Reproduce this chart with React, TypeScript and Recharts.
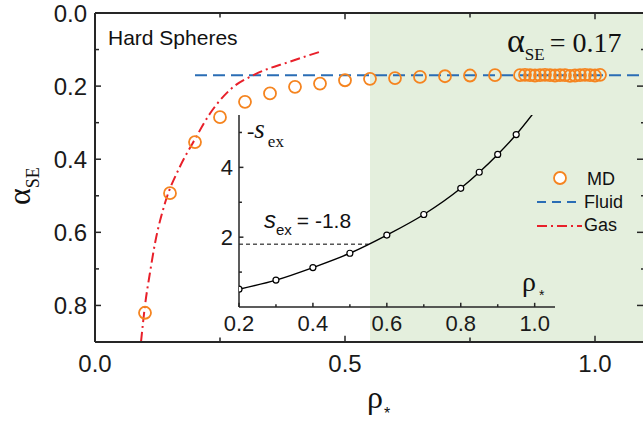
import React from 'react';
import {
  ComposedChart,
  Line,
  Scatter,
  XAxis,
  YAxis,
  ReferenceArea,
  ReferenceLine,
} from 'recharts';

// main panel: alpha_SE vs reduced density
const mdRho = [
  0.1, 0.15, 0.2, 0.25, 0.3, 0.35, 0.4, 0.45, 0.5, 0.55, 0.6, 0.65, 0.7, 0.75, 0.8,
  0.85, 0.86, 0.87, 0.88, 0.89, 0.9, 0.91, 0.92, 0.93, 0.94, 0.95, 0.96, 0.97, 0.98,
  0.99, 1.0, 1.01,
];
const mdAlpha = [
  0.82, 0.493, 0.353, 0.285, 0.243, 0.22, 0.202, 0.193, 0.184, 0.18, 0.178, 0.175,
  0.173, 0.171, 0.17, 0.17, 0.169, 0.17, 0.171, 0.17, 0.169, 0.17, 0.171, 0.17, 0.17,
  0.172, 0.171, 0.17, 0.169, 0.17, 0.171, 0.169,
];
const gasRho = [0.092, 0.1, 0.11, 0.12, 0.14, 0.17, 0.2, 0.23, 0.27, 0.32, 0.39, 0.45];
const gasAlpha = [0.9, 0.8, 0.71, 0.63, 0.52, 0.42, 0.345, 0.275, 0.21, 0.168, 0.133, 0.106];
const fluidRho = [0.2, 1.1];
const fluidAlpha = 0.17;
const shadeFrom = 0.55;

const xMajor = [0, 0.5, 1.0];
const xMinor = [0.25, 0.75];
const yMajor = [0, 0.2, 0.4, 0.6, 0.8];
const yMinor = [0.1, 0.3, 0.5, 0.7];

// inset: -s_ex vs density
const insetRho = [0.2, 0.3, 0.4, 0.5, 0.6, 0.7, 0.8, 0.85, 0.9, 0.95];
const insetSex = [0.51, 0.77, 1.13, 1.54, 2.06, 2.65, 3.4, 3.86, 4.37, 4.94];
const insetTailRho = [1.0];
const insetTailSex = [5.6];
const sexCut = 1.8;
const insetXMajor = [0.2, 0.4, 0.6, 0.8, 1.0];
const insetXMinor = [0.3, 0.5, 0.7, 0.9];
const insetYMajor = [2, 4];
const insetYMinor = [1, 3, 5];

const ORANGE = '#f5841f';
const BLUE = '#2a6db5';
const RED = '#e8202a';
const GREEN = '#e4efdd';
const AXIS = '#262626';
const SANS = '"Liberation Sans", Arial, sans-serif';
const SERIF = '"Liberation Serif", "Times New Roman", serif';

const mdData = mdRho.map((x, i) => ({ x, y: mdAlpha[i] }));
const gasData = gasRho.map((x, i) => ({ x, y: gasAlpha[i] }));
const fluidData = fluidRho.map((x) => ({ x, y: fluidAlpha }));
const insetPts = insetRho.map((x, i) => ({ x, y: insetSex[i] }));
const insetLine = [
  ...insetPts,
  ...insetTailRho.map((x, i) => ({ x, y: insetTailSex[i] })),
];

const isIn = (arr: number[], v: number) => arr.some((a) => Math.abs(a - v) < 1e-9);

const MainXTick = ({ x, y, payload }: any) => {
  if (!isIn(xMajor, payload.value)) return null;
  return (
    <text x={x} y={y} dy="0.71em" textAnchor="middle" fontSize={24} fontFamily={SANS} fill="#1a1a1a">
      {payload.value.toFixed(1)}
    </text>
  );
};

const MainYTick = ({ x, y, payload }: any) => {
  if (!isIn(yMajor, payload.value)) return null;
  return (
    <text x={x} y={y} dy="0.355em" textAnchor="end" fontSize={24} fontFamily={SANS} fill="#1a1a1a">
      {payload.value.toFixed(1)}
    </text>
  );
};

const InsetXTick = ({ x, y, payload }: any) => {
  if (!isIn(insetXMajor, payload.value)) return null;
  return (
    <text x={x} y={y} dy="0.71em" textAnchor="middle" fontSize={22} fontFamily={SANS} fill="#1a1a1a">
      {payload.value.toFixed(1)}
    </text>
  );
};

const InsetYTick = ({ x, y, payload }: any) => {
  if (!isIn(insetYMajor, payload.value)) return null;
  return (
    <text x={x} y={y} dy="0.355em" textAnchor="end" fontSize={22} fontFamily={SANS} fill="#1a1a1a">
      {payload.value}
    </text>
  );
};

const SmallCircle = ({ cx, cy }: any) => (
  <circle cx={cx} cy={cy} r={3} fill="#fff" stroke="#000" strokeWidth={1.2} />
);
const MdCircle = ({ cx, cy }: any) => (
  <circle cx={cx} cy={cy} r={6} fill="none" stroke={ORANGE} strokeWidth={1.8} />
);

// inward tick marks, drawn through the axis scales
const tickSegs = (
  vals: number[],
  dir: 'x' | 'y',
  at: number,
  len: number,
  key: string,
  stroke = AXIS,
) =>
  vals.map((v) => (
    <ReferenceLine
      key={key + v}
      segment={
        dir === 'x'
          ? [{ x: v, y: at }, { x: v, y: at + len }]
          : [{ x: at, y: v }, { x: at + len, y: v }]
      }
      stroke={stroke}
      strokeWidth={1.5}
    />
  ));

const sorted = (a: number[], b: number[]) => [...a, ...b].sort((p, q) => p - q);

export default function App() {
  return (
    <div style={{ position: 'absolute', left: 0, top: 0, width: 643, height: 422, overflow: 'hidden', background: '#fff' }}>
      <div style={{ position: 'absolute', left: 0, top: 0 }}>
        <ComposedChart width={660} height={422} margin={{ top: 13, right: 15, bottom: 0, left: 0 }}>
          <XAxis
            type="number"
            dataKey="x"
            domain={[0, 1.1]}
            ticks={sorted(xMajor, xMinor)}
            interval={0}
            allowDataOverflow
            height={80}
            tickSize={0}
            tickMargin={13}
            tickLine={false}
            axisLine={{ stroke: AXIS, strokeWidth: 2 }}
            tick={<MainXTick />}
          />
          <YAxis
            type="number"
            dataKey="y"
            domain={[0, 0.9]}
            reversed
            ticks={sorted(yMajor, yMinor)}
            interval={0}
            allowDataOverflow
            width={95}
            tickSize={0}
            tickMargin={8}
            tickLine={false}
            axisLine={{ stroke: AXIS, strokeWidth: 2 }}
            tick={<MainYTick />}
          />
          <ReferenceArea x1={shadeFrom} x2={1.1} y1={0} y2={0.9} fill={GREEN} fillOpacity={1} stroke="none" />
          <ReferenceLine y={0} stroke={AXIS} strokeWidth={2} />
          <ReferenceLine x={1.1} stroke={AXIS} strokeWidth={2} />
          {tickSegs(xMajor, 'x', 0.9, -0.017, 'bM')}
          {tickSegs(xMinor, 'x', 0.9, -0.012, 'bm')}
          {tickSegs(xMajor, 'x', 0, 0.017, 'tM')}
          {tickSegs(xMinor, 'x', 0, 0.012, 'tm')}
          {tickSegs(yMajor, 'y', 0, 0.012, 'lM')}
          {tickSegs(yMinor, 'y', 0, 0.008, 'lm')}
          {tickSegs(yMajor, 'y', 1.1, -0.016, 'rM')}
          {tickSegs(yMinor, 'y', 1.1, -0.008, 'rm')}
          <Line
            data={fluidData}
            dataKey="y"
            type="linear"
            stroke={BLUE}
            strokeWidth={2}
            strokeDasharray="12 6"
            dot={false}
            isAnimationActive={false}
          />
          <Line
            data={gasData}
            dataKey="y"
            type="monotone"
            stroke={RED}
            strokeWidth={2}
            strokeDasharray="10 4 2 4"
            dot={false}
            isAnimationActive={false}
          />
          <Scatter data={mdData} dataKey="y" shape={<MdCircle />} isAnimationActive={false} />
        </ComposedChart>
      </div>

      <div style={{ position: 'absolute', left: 0, top: 0 }}>
        <ComposedChart width={643} height={422} margin={{ top: 115, right: 88, bottom: 0, left: 0 }}>
          <XAxis
            type="number"
            dataKey="x"
            domain={[0.2, 1.055]}
            ticks={sorted(insetXMajor, insetXMinor)}
            interval={0}
            allowDataOverflow
            height={115}
            tickSize={0}
            tickMargin={8}
            tickLine={false}
            axisLine={{ stroke: AXIS, strokeWidth: 1.5 }}
            tick={<InsetXTick />}
          />
          <YAxis
            type="number"
            dataKey="y"
            domain={[0, 5.5]}
            ticks={sorted(insetYMajor, insetYMinor)}
            interval={0}
            allowDataOverflow
            width={239}
            tickSize={0}
            tickMargin={6}
            tickLine={false}
            axisLine={{ stroke: AXIS, strokeWidth: 1.5 }}
            tick={<InsetYTick />}
          />
          {tickSegs(insetXMajor, 'x', 0, 0.12, 'iM')}
          {tickSegs(insetXMinor, 'x', 0, 0.08, 'im')}
          {tickSegs(insetYMajor, 'y', 0.2, 0.012, 'jM')}
          {tickSegs(insetYMinor, 'y', 0.2, 0.008, 'jm')}
          <ReferenceLine
            segment={[{ x: 0.2, y: sexCut }, { x: shadeFrom, y: sexCut }]}
            stroke="#000"
            strokeWidth={1}
            strokeDasharray="4 3"
          />
          <Line
            data={insetLine}
            dataKey="y"
            type="monotone"
            stroke="#000"
            strokeWidth={1.4}
            dot={false}
            isAnimationActive={false}
          />
          <Scatter data={insetPts} dataKey="y" shape={<SmallCircle />} isAnimationActive={false} />
        </ComposedChart>
      </div>

      <svg width={643} height={422} style={{ position: 'absolute', left: 0, top: 0 }}>
        <text x={108} y={45} fontSize={21} fontFamily={SANS} fill="#111">Hard Spheres</text>

        <text x={507} y={52} fontFamily={SERIF} fill="#111">
          <tspan fontSize={34}>α</tspan>
          <tspan fontSize={17} dy={8}>SE</tspan>
          <tspan fontSize={28} dy={-8} dx={5}>= 0.17</tspan>
        </text>

        <g transform="translate(30,205) rotate(-90)">
          <text x={0} y={0} fontFamily={SERIF} fill="#111">
            <tspan fontSize={32}>α</tspan>
            <tspan fontSize={18} dy={9}>SE</tspan>
          </text>
        </g>

        <text x={367} y={408} fontFamily={SERIF} fill="#111" fontSize={32}>ρ</text>
        <text x={384} y={419} fontFamily={SANS} fill="#111" fontSize={16}>*</text>

        <text x={522} y={291} fontFamily={SERIF} fill="#111" fontSize={28}>ρ</text>
        <text x={539} y={300} fontFamily={SANS} fill="#111" fontSize={14}>*</text>

        <text x={247} y={138} fontFamily={SERIF} fill="#111">
          <tspan fontSize={22}>-</tspan>
          <tspan fontSize={27} fontStyle="italic">s</tspan>
          <tspan fontSize={17} dy={9} dx={3}>ex</tspan>
        </text>

        <text x={264} y={228} fontFamily={SANS} fill="#111">
          <tspan fontSize={24} fontStyle="italic">s</tspan>
          <tspan fontSize={15} dy={7}>ex</tspan>
          <tspan fontSize={21} dy={-7} dx={5}>= -1.8</tspan>
        </text>

        {/* legend */}
        <circle cx={560} cy={178} r={6} fill="#fff" stroke={ORANGE} strokeWidth={1.8} />
        <text x={587} y={185} fontSize={18} fontFamily={SANS} fill="#111">MD</text>
        <line x1={537} x2={582} y1={202} y2={202} stroke={BLUE} strokeWidth={2} strokeDasharray="9 6" />
        <text x={584} y={208} fontSize={18} fontFamily={SANS} fill="#111">Fluid</text>
        <line x1={537} x2={582} y1={226} y2={226} stroke={RED} strokeWidth={2} strokeDasharray="10 4 2 4" />
        <text x={584} y={231} fontSize={18} fontFamily={SANS} fill="#111">Gas</text>
      </svg>
    </div>
  );
}
